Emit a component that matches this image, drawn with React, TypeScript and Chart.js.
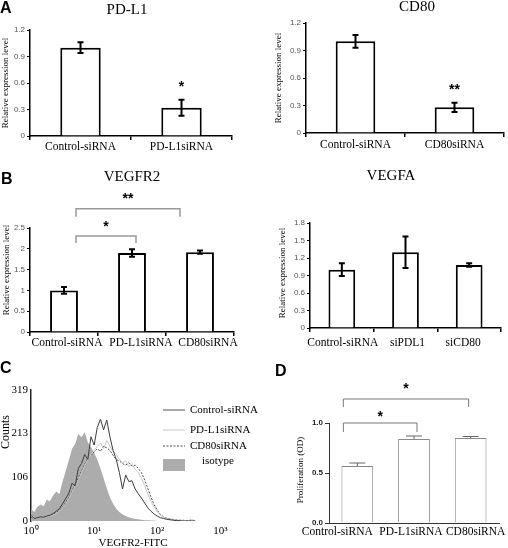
import React, { useEffect, useRef } from "react";
import { Chart, registerables } from "chart.js";
Chart.register(...registerables);

const W = 508;
const H = 548;
const SERIF = '"Liberation Serif", "Times New Roman", serif';
const SANS = '"Liberation Sans", Arial, sans-serif';

// ---------- DATA ----------
const pdl1Categories = ["Control-siRNA", "PD-L1siRNA"];
const pdl1Values = [1.0, 0.32];
const pdl1Errors = [0.06, 0.09];

const cd80Categories = ["Control-siRNA", "CD80siRNA"];
const cd80Values = [1.0, 0.28];
const cd80Errors = [0.07, 0.05];

const vegfr2Categories = ["Control-siRNA", "PD-L1siRNA", "CD80siRNA"];
const vegfr2Values = [1.0, 1.9, 1.92];
const vegfr2Errors = [0.08, 0.09, 0.04];

const vegfaCategories = ["Control-siRNA", "siPDL1", "siCD80"];
const vegfaValues = [1.0, 1.3, 1.08];
const vegfaErrors = [0.11, 0.27, 0.03];

const prolifCategories = ["Control-siRNA", "PD-L1siRNA", "CD80siRNA"];
const prolifValues = [0.57, 0.84, 0.85];
const prolifErrors = [0.03, 0.03, 0.015];

// flow cytometry histogram (x in log10 units of VEGFR2-FITC)
const flowLogFITC = [
  0.0, 0.05, 0.1, 0.15, 0.2, 0.25, 0.3, 0.35, 0.4, 0.45, 0.5, 0.55, 0.6, 0.65,
  0.7, 0.75, 0.8, 0.85, 0.9, 0.95, 1.0, 1.05, 1.1, 1.15, 1.2, 1.25, 1.3, 1.35,
  1.4, 1.45, 1.5, 1.55, 1.6, 1.65, 1.7, 1.75, 1.8, 1.85, 1.9, 1.95, 2.0, 2.05,
  2.1, 2.15, 2.2, 2.25, 2.3, 2.35, 2.4, 2.45, 2.5, 2.55, 2.6,
];
const isotypeCounts = [
  30, 22, 34, 40, 36, 52, 48, 62, 72, 66, 96, 122, 148, 176, 188, 212, 204,
  216, 192, 180, 166, 150, 128, 104, 80, 58, 42, 30, 22, 16, 12, 9, 7, 5, 4, 3,
  2, 2, 1, 1, 0, 0, 0, 0, 0, 0, 0, 0, 0, 0, 0, 0, 0,
];
const controlCounts = [
  14, 6, 8, 10, 9, 12, 14, 18, 24, 30, 42, 55, 68, 92, 86, 128, 140, 162, 150,
  205, 185, 228, 248, 222, 246, 205, 172, 150, 118, 78, 112, 96, 98, 78, 66,
  56, 44, 32, 24, 17, 12, 8, 6, 4, 3, 2, 1, 1, 0, 0, 0, 0, 0,
];
const pdl1Counts = [
  12, 5, 6, 8, 8, 10, 12, 14, 18, 24, 32, 42, 55, 70, 85, 100, 118, 135, 150,
  162, 172, 182, 190, 176, 196, 182, 170, 162, 150, 142, 146, 132, 138, 126,
  118, 104, 86, 66, 48, 34, 22, 14, 9, 6, 4, 3, 2, 1, 1, 0, 0, 0, 0,
];
const cd80Counts = [
  10, 5, 7, 8, 9, 11, 12, 15, 20, 26, 34, 45, 58, 72, 90, 104, 122, 138, 152,
  160, 168, 176, 170, 182, 178, 172, 160, 150, 146, 140, 136, 142, 134, 136,
  128, 118, 100, 80, 58, 40, 26, 16, 10, 7, 5, 4, 3, 2, 2, 1, 1, 3, 0,
];
const flowCountTicks = [0, 106, 213, 319];
const flowDecadeTicks = [0, 1, 2, 3];
const flowDecadeLabels = ["10\u2070", "10\u00B9", "10\u00B2", "10\u00B3"];
const flowSeriesNames = ["Control-siRNA", "PD-L1siRNA", "CD80siRNA", "isotype"];

// ---------- helpers ----------
type Txt = {
  text: string;
  x: number;
  y: number;
  font: string;
  color?: string;
  rotate?: boolean;
  align?: CanvasTextAlign;
};

function drawTexts(ctx: CanvasRenderingContext2D, texts: Txt[]) {
  ctx.save();
  texts.forEach((t) => {
    ctx.save();
    ctx.font = t.font;
    ctx.fillStyle = t.color || "#000";
    ctx.textAlign = t.align || "center";
    ctx.textBaseline = "middle";
    ctx.translate(t.x, t.y);
    if (t.rotate) ctx.rotate(-Math.PI / 2);
    ctx.fillText(t.text, 0, 0);
    ctx.restore();
  });
  ctx.restore();
}

type Bracket = {
  from: number;
  to: number;
  dxFrom: number;
  dxTo: number;
  top: number;
  drop: number;
  star: string;
  starValue: number;
};

type BarSpec = {
  area: { l: number; t: number; r: number; b: number };
  labels: string[];
  values: number[];
  errors: number[];
  yMax: number;
  yStep: number;
  decimals: number | null;
  barPct: number;
  barBorder: number;
  barColor: string;
  axisColor: string;
  axisWidth: number;
  tickFont: { family: string; size: number; weight?: string };
  tickColor: string;
  yTickLen: number;
  xTickLen: number;
  xLabelSize: number;
  xLabelPad: number;
  xLabelDx?: number[];
  errWidth: number;
  errCap: number;
  errUpOnly: boolean;
  errColor: string;
  brackets: Bracket[];
  bracketColor: string;
  bracketWidth: number;
  starFont: string;
  stars: { index: number; value: number; text: string }[];
  texts: Txt[];
};

const WY = 30;
const HX = 22;

function barConfig(s: BarSpec): any {
  const manualLabels = !!s.xLabelDx;
  const plugin = {
    id: "barDecor",
    afterDatasetsDraw(chart: any) {
      const ctx: CanvasRenderingContext2D = chart.ctx;
      const xs = chart.scales.x;
      const ys = chart.scales.y;
      const meta = chart.getDatasetMeta(0);
      ctx.save();
      ctx.strokeStyle = s.errColor;
      ctx.lineWidth = s.errWidth;
      s.values.forEach((v, i) => {
        const px = meta.data[i].x;
        const top = ys.getPixelForValue(v + s.errors[i]);
        const bot = s.errUpOnly
          ? ys.getPixelForValue(v)
          : ys.getPixelForValue(v - s.errors[i]);
        ctx.beginPath();
        ctx.moveTo(px, top);
        ctx.lineTo(px, bot);
        ctx.moveTo(px - s.errCap, top);
        ctx.lineTo(px + s.errCap, top);
        if (!s.errUpOnly) {
          ctx.moveTo(px - s.errCap, bot);
          ctx.lineTo(px + s.errCap, bot);
        }
        ctx.stroke();
      });
      ctx.strokeStyle = s.bracketColor;
      ctx.lineWidth = s.bracketWidth;
      ctx.fillStyle = "#000";
      ctx.font = s.starFont;
      ctx.textAlign = "center";
      ctx.textBaseline = "middle";
      s.brackets.forEach((b) => {
        const x1 = xs.getPixelForValue(b.from) + b.dxFrom;
        const x2 = xs.getPixelForValue(b.to) + b.dxTo;
        const yt = ys.getPixelForValue(b.top);
        const yd = ys.getPixelForValue(b.drop);
        ctx.beginPath();
        ctx.moveTo(x1, yd);
        ctx.lineTo(x1, yt);
        ctx.lineTo(x2, yt);
        ctx.lineTo(x2, yd);
        ctx.stroke();
        ctx.fillText(b.star, (x1 + x2) / 2, ys.getPixelForValue(b.starValue));
      });
      s.stars.forEach((st) => {
        ctx.fillText(st.text, meta.data[st.index].x, ys.getPixelForValue(st.value));
      });
      ctx.restore();
    },
    afterDraw(chart: any) {
      const ctx: CanvasRenderingContext2D = chart.ctx;
      const xs = chart.scales.x;
      if (manualLabels) {
        ctx.save();
        ctx.font = `${s.xLabelSize}px ${SERIF}`;
        ctx.fillStyle = "#000";
        ctx.textAlign = "center";
        ctx.textBaseline = "middle";
        s.labels.forEach((lab, i) => {
          ctx.fillText(
            lab,
            xs.getPixelForValue(i) + (s.xLabelDx as number[])[i],
            s.area.b + s.xLabelPad + s.xLabelSize * 0.6
          );
        });
        ctx.restore();
      }
      drawTexts(ctx, s.texts);
    },
  };
  return {
    type: "bar",
    data: {
      labels: s.labels,
      datasets: [
        {
          data: s.values,
          backgroundColor: "#ffffff",
          borderColor: s.barColor,
          borderWidth: s.barBorder,
          barPercentage: s.barPct,
          categoryPercentage: 1,
        },
      ],
    },
    options: {
      responsive: false,
      animation: false,
      devicePixelRatio: 1,
      layout: {
        padding: {
          left: s.area.l - WY,
          top: s.area.t,
          right: W - s.area.r,
          bottom: H - s.area.b - HX,
        },
      },
      plugins: {
        legend: { display: false },
        tooltip: { enabled: false },
        title: { display: false },
      },
      scales: {
        x: {
          type: "category",
          offset: true,
          grid: {
            display: s.xTickLen > 0,
            drawOnChartArea: false,
            drawTicks: s.xTickLen > 0,
            tickLength: s.xTickLen,
            color: s.axisColor,
            lineWidth: s.axisWidth,
            offset: true,
          },
          border: { display: true, color: s.axisColor, width: s.axisWidth },
          ticks: {
            display: !manualLabels,
            font: { family: SERIF, size: s.xLabelSize },
            color: "#000",
            padding: s.xLabelPad,
            maxRotation: 0,
            minRotation: 0,
            autoSkip: false,
          },
          afterFit: (sc: any) => {
            sc.height = HX;
          },
        },
        y: {
          min: 0,
          max: s.yMax,
          grid: {
            display: true,
            drawOnChartArea: false,
            drawTicks: true,
            tickLength: s.yTickLen,
            color: s.axisColor,
            lineWidth: 1,
          },
          border: { display: true, color: s.axisColor, width: s.axisWidth },
          ticks: {
            stepSize: s.yStep,
            font: s.tickFont,
            color: s.tickColor,
            padding: 2,
            callback: (v: number) =>
              s.decimals === null ? String(+v.toFixed(2)) : v.toFixed(s.decimals),
          },
          afterFit: (sc: any) => {
            sc.width = WY;
          },
        },
      },
    },
    plugins: [plugin],
  };
}

const abCommon = {
  decimals: null,
  barBorder: 2,
  barColor: "#000",
  axisColor: "#000",
  axisWidth: 1.5,
  tickFont: { family: SANS, size: 8 },
  tickColor: "#555",
  yTickLen: 3,
  xTickLen: 4,
  xLabelSize: 11.5,
  errWidth: 2,
  errCap: 3,
  errUpOnly: false,
  errColor: "#000",
  bracketColor: "#999",
  bracketWidth: 1.5,
  starFont: `bold 14px ${SANS}`,
};

const yTitleFont = `9px ${SERIF}`;
const titleFont = `15px ${SERIF}`;
const letterFont = `bold 16px ${SANS}`;

const pdl1Spec: BarSpec = {
  ...abCommon,
  area: { l: 30, t: 30, r: 232, b: 136 },
  labels: pdl1Categories,
  values: pdl1Values,
  errors: pdl1Errors,
  yMax: 1.2,
  yStep: 0.3,
  barPct: 0.4,
  xLabelPad: 0,
  brackets: [],
  stars: [{ index: 1, value: 0.55, text: "*" }],
  texts: [
    { text: "A", x: 0, y: 9, font: letterFont, align: "left" },
    { text: "PD-L1", x: 127, y: 10, font: titleFont },
    { text: "Relative expression level", x: 6, y: 83, font: yTitleFont, rotate: true },
  ],
};

const cd80Spec: BarSpec = {
  ...abCommon,
  area: { l: 306, t: 23, r: 504, b: 133 },
  labels: cd80Categories,
  values: cd80Values,
  errors: cd80Errors,
  yMax: 1.2,
  yStep: 0.3,
  barPct: 0.4,
  xLabelPad: 1,
  brackets: [],
  stars: [{ index: 1, value: 0.47, text: "**" }],
  texts: [
    { text: "CD80", x: 417, y: 7, font: titleFont },
    { text: "Relative expression level", x: 279, y: 78, font: yTitleFont, rotate: true },
  ],
};

const vegfr2Spec: BarSpec = {
  ...abCommon,
  area: { l: 30, t: 228, r: 234, b: 332 },
  labels: vegfr2Categories,
  values: vegfr2Values,
  errors: vegfr2Errors,
  yMax: 2.5,
  yStep: 0.5,
  barPct: 0.41,
  xLabelPad: 4,
  xLabelDx: [3, 9, 8],
  brackets: [
    { from: 0, to: 2, dxFrom: 12, dxTo: -20, top: 2.96, drop: 2.77, star: "**", starValue: 3.2 },
    { from: 0, to: 1, dxFrom: 12, dxTo: 4, top: 2.31, drop: 2.14, star: "*", starValue: 2.52 },
  ],
  stars: [],
  texts: [
    { text: "B", x: 1, y: 180, font: letterFont, align: "left" },
    { text: "VEGFR2", x: 132, y: 177, font: titleFont },
    { text: "Relative expression level", x: 7, y: 270, font: yTitleFont, rotate: true },
  ],
};

const vegfaSpec: BarSpec = {
  ...abCommon,
  area: { l: 310, t: 223, r: 501, b: 328 },
  labels: vegfaCategories,
  values: vegfaValues,
  errors: vegfaErrors,
  yMax: 1.8,
  yStep: 0.3,
  barPct: 0.42,
  xLabelPad: 8,
  xLabelDx: [1, 2, -6],
  brackets: [],
  stars: [],
  texts: [
    { text: "VEGFA", x: 391, y: 176, font: titleFont },
    { text: "Relative expression level", x: 283, y: 273, font: yTitleFont, rotate: true },
  ],
};

const prolifSpec: BarSpec = {
  area: { l: 329, t: 423, r: 499, b: 523 },
  labels: prolifCategories,
  values: prolifValues,
  errors: prolifErrors,
  yMax: 1.0,
  yStep: 0.5,
  decimals: 1,
  barPct: 0.56,
  barBorder: 1,
  barColor: "#888",
  axisColor: "#333",
  axisWidth: 1,
  tickFont: { family: SANS, size: 8, weight: "bold" },
  tickColor: "#222",
  yTickLen: 4,
  xTickLen: 0,
  xLabelSize: 11.5,
  xLabelPad: 2,
  xLabelDx: [-20, -3, 5],
  errWidth: 1,
  errCap: 8,
  errUpOnly: true,
  errColor: "#666",
  brackets: [
    { from: 0, to: 2, dxFrom: -14, dxTo: -2, top: 1.24, drop: 1.16, star: "*", starValue: 1.34 },
    { from: 0, to: 1, dxFrom: -14, dxTo: 3, top: 1.0, drop: 0.91, star: "*", starValue: 1.06 },
  ],
  bracketColor: "#777",
  bracketWidth: 1,
  starFont: `bold 14px ${SANS}`,
  stars: [],
  texts: [
    { text: "D", x: 275, y: 372, font: letterFont, align: "left" },
    { text: "Proliferation (OD)", x: 301, y: 470, font: yTitleFont, rotate: true },
  ],
};

function flowConfig(): any {
  const area = { l: 31, t: 390, r: 233, b: 521 };
  const FWY = 31;
  const FHX = 22;
  const pts = (arr: number[]) => flowLogFITC.map((x, i) => ({ x, y: arr[i] }));
  const lineColors = ["#3c3c3c", "#c6c6c6", "#4a4a4a"];
  const legendColors = ["#8a8a8a", "#c6c6c6", "#4a4a4a"];
  const isoColor = "#acacac";
  const plugin = {
    id: "flowDecor",
    afterDraw(chart: any) {
      const ctx: CanvasRenderingContext2D = chart.ctx;
      ctx.save();
      const rows = [410, 430, 446];
      rows.forEach((yy, i) => {
        ctx.beginPath();
        ctx.strokeStyle = legendColors[i];
        ctx.lineWidth = i === 0 ? 1.5 : 1;
        ctx.setLineDash(i === 2 ? [2, 1.5] : []);
        ctx.moveTo(163, yy);
        ctx.lineTo(185, yy);
        ctx.stroke();
      });
      ctx.setLineDash([]);
      ctx.fillStyle = isoColor;
      ctx.fillRect(163, 459, 22, 12);
      ctx.restore();
      drawTexts(ctx, [
        { text: flowSeriesNames[0], x: 190, y: 410, font: `11px ${SERIF}`, align: "left" },
        { text: flowSeriesNames[1], x: 190, y: 430, font: `11px ${SERIF}`, align: "left" },
        { text: flowSeriesNames[2], x: 190, y: 446, font: `11px ${SERIF}`, align: "left" },
        { text: flowSeriesNames[3], x: 202, y: 461, font: `11px ${SERIF}`, align: "left" },
        { text: "C", x: 0, y: 369, font: letterFont, align: "left" },
        { text: "Counts", x: 6, y: 432, font: `12px ${SERIF}`, rotate: true },
        { text: "VEGFR2-FITC", x: 133, y: 543, font: `11px ${SERIF}` },
      ]);
    },
  };
  return {
    type: "line",
    data: {
      datasets: [
        { label: flowSeriesNames[0], data: pts(controlCounts), borderColor: lineColors[0], borderWidth: 1, pointRadius: 0, fill: false, tension: 0 },
        { label: flowSeriesNames[1], data: pts(pdl1Counts), borderColor: lineColors[1], borderWidth: 1, pointRadius: 0, fill: false, tension: 0 },
        { label: flowSeriesNames[2], data: pts(cd80Counts), borderColor: lineColors[2], borderWidth: 1, borderDash: [2, 1.5], pointRadius: 0, fill: false, tension: 0 },
        { label: flowSeriesNames[3], data: pts(isotypeCounts), borderColor: isoColor, borderWidth: 0, backgroundColor: isoColor, pointRadius: 0, fill: "origin", tension: 0 },
      ],
    },
    options: {
      responsive: false,
      animation: false,
      devicePixelRatio: 1,
      layout: {
        padding: {
          left: area.l - FWY,
          top: area.t,
          right: W - area.r,
          bottom: H - area.b - FHX,
        },
      },
      plugins: {
        legend: { display: false },
        tooltip: { enabled: false },
        title: { display: false },
      },
      scales: {
        x: {
          type: "linear",
          min: 0,
          max: 3.2,
          grid: { display: false, drawTicks: false },
          border: { display: false },
          afterBuildTicks: (sc: any) => {
            sc.ticks = flowDecadeTicks.map((v) => ({ value: v }));
          },
          ticks: {
            font: { family: SERIF, size: 11 },
            color: "#000",
            padding: 4,
            maxRotation: 0,
            autoSkip: false,
            callback: (v: number) => flowDecadeLabels[flowDecadeTicks.indexOf(v)] ?? "",
          },
          afterFit: (sc: any) => {
            sc.height = FHX;
          },
        },
        y: {
          min: 0,
          max: 319,
          grid: { display: false, drawTicks: false },
          border: { display: true, color: "#222", width: 1.5 },
          afterBuildTicks: (sc: any) => {
            sc.ticks = flowCountTicks.map((v) => ({ value: v }));
          },
          ticks: {
            font: { family: SERIF, size: 11 },
            color: "#000",
            padding: 3,
            callback: (v: number) => String(v),
          },
          afterFit: (sc: any) => {
            sc.width = FWY;
          },
        },
      },
    },
    plugins: [plugin],
  };
}

function ChartCanvas({ make }: { make: () => any }) {
  const ref = useRef<HTMLCanvasElement>(null);
  useEffect(() => {
    const chart = new Chart(ref.current as HTMLCanvasElement, make());
    return () => chart.destroy();
  }, []);
  return (
    <canvas
      ref={ref}
      width={W}
      height={H}
      style={{ position: "absolute", left: 0, top: 0, width: W, height: H }}
    />
  );
}

const barSpecs = [pdl1Spec, cd80Spec, vegfr2Spec, vegfaSpec, prolifSpec];

export default function App() {
  return (
    <div
      style={{
        position: "absolute",
        left: 0,
        top: 0,
        width: W,
        height: H,
        background: "#fff",
        overflow: "hidden",
      }}
    >
      {barSpecs.map((s, i) => (
        <ChartCanvas key={i} make={() => barConfig(s)} />
      ))}
      <ChartCanvas make={flowConfig} />
    </div>
  );
}
